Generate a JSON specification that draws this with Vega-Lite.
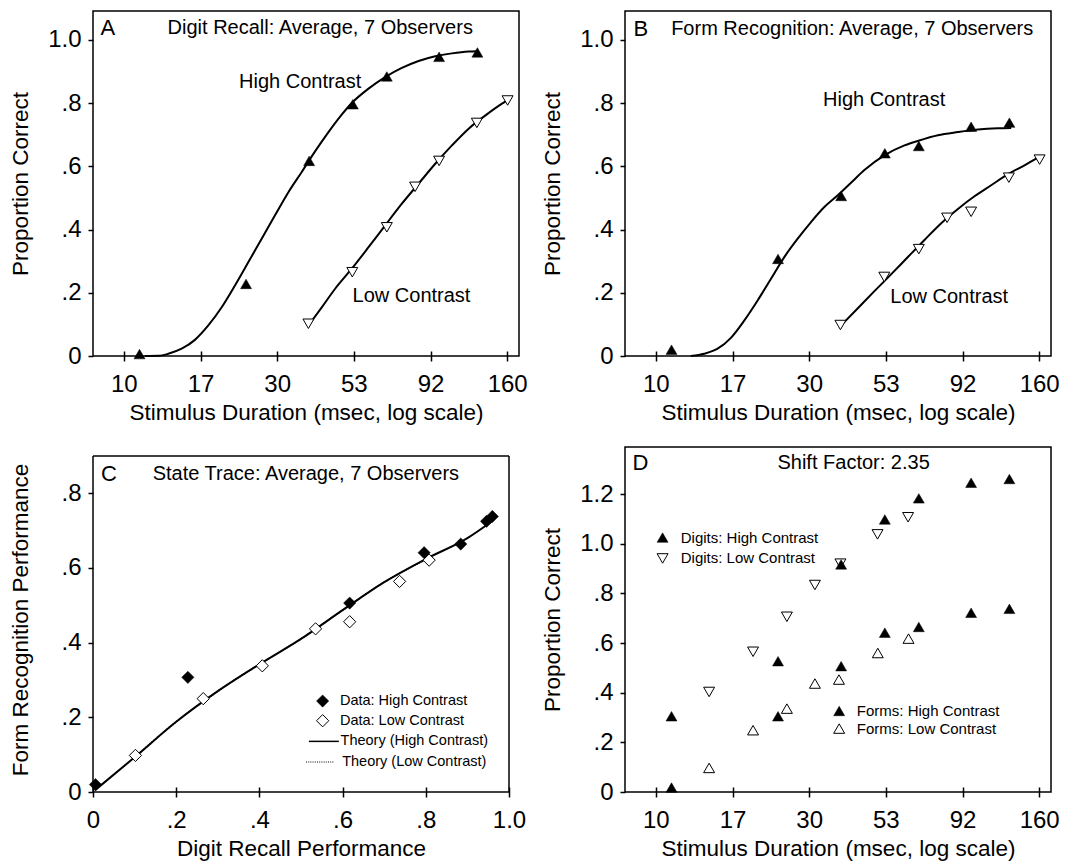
{
  "$schema": "https://vega.github.io/schema/vega-lite/v6.json",
  "padding": {"left": 8, "top": 10, "right": 5, "bottom": 0},
  "background": "white",
  "config": {
    "font": "Liberation Sans",
    "view": {"stroke": "black", "strokeWidth": 1.5},
    "axis": {"domain": false, "grid": false, "tickColor": "black", "tickWidth": 1.5, "labelColor": "black", "titleColor": "black", "labelFontSize": 24, "titleFontSize": 22.5, "titleFontWeight": "normal", "labelFont": "Liberation Sans", "titleFont": "Liberation Sans"},
    "axisX": {"offset": -5, "tickSize": 10, "labelPadding": 11, "titlePadding": 5, "labelFlush": false},
    "axisY": {"tickSize": 5, "labelPadding": 7, "titlePadding": 15, "labelFlush": false},
    "text": {"color": "black"}
  },
  "datasets": {
    "obs": [
      {"contrast": "High", "dur": 11.2, "digit": 0.006, "form": 0.020},
      {"contrast": "High", "dur": 24.2, "digit": 0.228, "form": 0.307},
      {"contrast": "High", "dur": 38.2, "digit": 0.617, "form": 0.506},
      {"contrast": "High", "dur": 52.4, "digit": 0.796, "form": 0.641},
      {"contrast": "High", "dur": 67.0, "digit": 0.884, "form": 0.664},
      {"contrast": "High", "dur": 97.8, "digit": 0.946, "form": 0.725},
      {"contrast": "High", "dur": 129.0, "digit": 0.960, "form": 0.738},
      {"contrast": "Low", "dur": 38.0, "digit": 0.102, "form": 0.098},
      {"contrast": "Low", "dur": 52.2, "digit": 0.265, "form": 0.250},
      {"contrast": "Low", "dur": 67.0, "digit": 0.407, "form": 0.338},
      {"contrast": "Low", "dur": 82.2, "digit": 0.535, "form": 0.437},
      {"contrast": "Low", "dur": 97.8, "digit": 0.617, "form": 0.456},
      {"contrast": "Low", "dur": 128.5, "digit": 0.737, "form": 0.564},
      {"contrast": "Low", "dur": 160.5, "digit": 0.808, "form": 0.621}
    ],
    "shift": [
      {"task": "Digits", "contrast": "High", "dur": 11.2, "p": 0.305},
      {"task": "Digits", "contrast": "High", "dur": 24.2, "p": 0.527},
      {"task": "Digits", "contrast": "High", "dur": 38.2, "p": 0.917},
      {"task": "Digits", "contrast": "High", "dur": 52.4, "p": 1.098},
      {"task": "Digits", "contrast": "High", "dur": 67.0, "p": 1.183},
      {"task": "Digits", "contrast": "High", "dur": 97.8, "p": 1.246},
      {"task": "Digits", "contrast": "High", "dur": 129.0, "p": 1.261},
      {"task": "Forms", "contrast": "High", "dur": 11.2, "p": 0.018},
      {"task": "Forms", "contrast": "High", "dur": 24.2, "p": 0.305},
      {"task": "Forms", "contrast": "High", "dur": 38.2, "p": 0.507},
      {"task": "Forms", "contrast": "High", "dur": 52.4, "p": 0.642},
      {"task": "Forms", "contrast": "High", "dur": 67.0, "p": 0.665},
      {"task": "Forms", "contrast": "High", "dur": 97.8, "p": 0.722},
      {"task": "Forms", "contrast": "High", "dur": 129.0, "p": 0.738},
      {"task": "Digits", "contrast": "Low", "dur": 14.7, "p": 0.403},
      {"task": "Digits", "contrast": "Low", "dur": 20.2, "p": 0.565},
      {"task": "Digits", "contrast": "Low", "dur": 25.8, "p": 0.706},
      {"task": "Digits", "contrast": "Low", "dur": 31.6, "p": 0.834},
      {"task": "Digits", "contrast": "Low", "dur": 38.0, "p": 0.920},
      {"task": "Digits", "contrast": "Low", "dur": 49.7, "p": 1.038},
      {"task": "Digits", "contrast": "Low", "dur": 62.0, "p": 1.107},
      {"task": "Forms", "contrast": "Low", "dur": 14.7, "p": 0.097},
      {"task": "Forms", "contrast": "Low", "dur": 20.2, "p": 0.249},
      {"task": "Forms", "contrast": "Low", "dur": 25.8, "p": 0.336},
      {"task": "Forms", "contrast": "Low", "dur": 31.6, "p": 0.437},
      {"task": "Forms", "contrast": "Low", "dur": 37.6, "p": 0.453},
      {"task": "Forms", "contrast": "Low", "dur": 49.8, "p": 0.560},
      {"task": "Forms", "contrast": "Low", "dur": 62.2, "p": 0.618}
    ],
    "curves": [
      {"panel": "A", "contrast": "High", "dur": 11.64, "p": 0.0},
      {"panel": "A", "contrast": "High", "dur": 12.83, "p": 0.0005},
      {"panel": "A", "contrast": "High", "dur": 13.79, "p": 0.007},
      {"panel": "A", "contrast": "High", "dur": 15.19, "p": 0.023},
      {"panel": "A", "contrast": "High", "dur": 16.72, "p": 0.051},
      {"panel": "A", "contrast": "High", "dur": 18.42, "p": 0.0965},
      {"panel": "A", "contrast": "High", "dur": 20.29, "p": 0.154},
      {"panel": "A", "contrast": "High", "dur": 22.34, "p": 0.223},
      {"panel": "A", "contrast": "High", "dur": 24.62, "p": 0.297},
      {"panel": "A", "contrast": "High", "dur": 27.1, "p": 0.371},
      {"panel": "A", "contrast": "High", "dur": 29.84, "p": 0.445},
      {"panel": "A", "contrast": "High", "dur": 32.88, "p": 0.518},
      {"panel": "A", "contrast": "High", "dur": 36.21, "p": 0.582},
      {"panel": "A", "contrast": "High", "dur": 39.87, "p": 0.647},
      {"panel": "A", "contrast": "High", "dur": 43.93, "p": 0.708},
      {"panel": "A", "contrast": "High", "dur": 47.8, "p": 0.757},
      {"panel": "A", "contrast": "High", "dur": 52.0, "p": 0.800},
      {"panel": "A", "contrast": "High", "dur": 58.7, "p": 0.8455},
      {"panel": "A", "contrast": "High", "dur": 66.2, "p": 0.882},
      {"panel": "A", "contrast": "High", "dur": 74.7, "p": 0.911},
      {"panel": "A", "contrast": "High", "dur": 84.3, "p": 0.933},
      {"panel": "A", "contrast": "High", "dur": 95.1, "p": 0.948},
      {"panel": "A", "contrast": "High", "dur": 107.3, "p": 0.957},
      {"panel": "A", "contrast": "High", "dur": 121.1, "p": 0.9627},
      {"panel": "A", "contrast": "High", "dur": 128.6, "p": 0.9636},
      {"panel": "A", "contrast": "Low", "dur": 38.0, "p": 0.0965},
      {"panel": "A", "contrast": "Low", "dur": 41.85, "p": 0.154},
      {"panel": "A", "contrast": "Low", "dur": 46.1, "p": 0.2127},
      {"panel": "A", "contrast": "Low", "dur": 52.0, "p": 0.276},
      {"panel": "A", "contrast": "Low", "dur": 58.7, "p": 0.344},
      {"panel": "A", "contrast": "Low", "dur": 66.2, "p": 0.413},
      {"panel": "A", "contrast": "Low", "dur": 74.7, "p": 0.4816},
      {"panel": "A", "contrast": "Low", "dur": 84.3, "p": 0.545},
      {"panel": "A", "contrast": "Low", "dur": 95.1, "p": 0.608},
      {"panel": "A", "contrast": "Low", "dur": 107.3, "p": 0.666},
      {"panel": "A", "contrast": "Low", "dur": 121.1, "p": 0.719},
      {"panel": "A", "contrast": "Low", "dur": 136.8, "p": 0.761},
      {"panel": "A", "contrast": "Low", "dur": 154.1, "p": 0.798},
      {"panel": "A", "contrast": "Low", "dur": 160.0, "p": 0.8085},
      {"panel": "B", "contrast": "High", "dur": 12.88, "p": 0.0},
      {"panel": "B", "contrast": "High", "dur": 14.19, "p": 0.007},
      {"panel": "B", "contrast": "High", "dur": 15.63, "p": 0.023},
      {"panel": "B", "contrast": "High", "dur": 17.21, "p": 0.0575},
      {"panel": "B", "contrast": "High", "dur": 18.95, "p": 0.112},
      {"panel": "B", "contrast": "High", "dur": 20.88, "p": 0.1756},
      {"panel": "B", "contrast": "High", "dur": 23.0, "p": 0.244},
      {"panel": "B", "contrast": "High", "dur": 25.32, "p": 0.3127},
      {"panel": "B", "contrast": "High", "dur": 27.9, "p": 0.371},
      {"panel": "B", "contrast": "High", "dur": 30.72, "p": 0.4235},
      {"panel": "B", "contrast": "High", "dur": 33.83, "p": 0.471},
      {"panel": "B", "contrast": "High", "dur": 37.27, "p": 0.508},
      {"panel": "B", "contrast": "High", "dur": 41.04, "p": 0.548},
      {"panel": "B", "contrast": "High", "dur": 45.2, "p": 0.588},
      {"panel": "B", "contrast": "High", "dur": 52.2, "p": 0.6345},
      {"panel": "B", "contrast": "High", "dur": 60.4, "p": 0.666},
      {"panel": "B", "contrast": "High", "dur": 66.5, "p": 0.680},
      {"panel": "B", "contrast": "High", "dur": 76.9, "p": 0.698},
      {"panel": "B", "contrast": "High", "dur": 88.9, "p": 0.708},
      {"panel": "B", "contrast": "High", "dur": 102.7, "p": 0.716},
      {"panel": "B", "contrast": "High", "dur": 118.7, "p": 0.720},
      {"panel": "B", "contrast": "High", "dur": 130.7, "p": 0.721},
      {"panel": "B", "contrast": "Low", "dur": 37.7, "p": 0.091},
      {"panel": "B", "contrast": "Low", "dur": 43.1, "p": 0.151},
      {"panel": "B", "contrast": "Low", "dur": 48.6, "p": 0.205},
      {"panel": "B", "contrast": "Low", "dur": 54.8, "p": 0.258},
      {"panel": "B", "contrast": "Low", "dur": 61.9, "p": 0.313},
      {"panel": "B", "contrast": "Low", "dur": 69.8, "p": 0.367},
      {"panel": "B", "contrast": "Low", "dur": 78.8, "p": 0.420},
      {"panel": "B", "contrast": "Low", "dur": 88.9, "p": 0.465},
      {"panel": "B", "contrast": "Low", "dur": 100.2, "p": 0.505},
      {"panel": "B", "contrast": "Low", "dur": 113.1, "p": 0.540},
      {"panel": "B", "contrast": "Low", "dur": 127.7, "p": 0.575},
      {"panel": "B", "contrast": "Low", "dur": 143.9, "p": 0.603},
      {"panel": "B", "contrast": "Low", "dur": 158.6, "p": 0.627}
    ],
    "theory": [
      {"contrast": "Low", "digit": 0.1, "form": 0.093},
      {"contrast": "Low", "digit": 0.2, "form": 0.188},
      {"contrast": "Low", "digit": 0.3, "form": 0.27},
      {"contrast": "Low", "digit": 0.4, "form": 0.342},
      {"contrast": "Low", "digit": 0.5, "form": 0.41},
      {"contrast": "Low", "digit": 0.6, "form": 0.487},
      {"contrast": "Low", "digit": 0.7, "form": 0.562},
      {"contrast": "Low", "digit": 0.81, "form": 0.628},
      {"contrast": "High", "digit": 0.005, "form": 0.005},
      {"contrast": "High", "digit": 0.1, "form": 0.093},
      {"contrast": "High", "digit": 0.2, "form": 0.188},
      {"contrast": "High", "digit": 0.3, "form": 0.27},
      {"contrast": "High", "digit": 0.4, "form": 0.342},
      {"contrast": "High", "digit": 0.5, "form": 0.41},
      {"contrast": "High", "digit": 0.6, "form": 0.487},
      {"contrast": "High", "digit": 0.7, "form": 0.562},
      {"contrast": "High", "digit": 0.8, "form": 0.624},
      {"contrast": "High", "digit": 0.9, "form": 0.68},
      {"contrast": "High", "digit": 0.96, "form": 0.726}
    ]
  },
  "columns": 2,
  "bounds": "flush",
  "spacing": {"row": 91, "column": 106},
  "concat": [
    {
      "width": 426, "height": 345,
      "layer": [
        {"data": {"name": "curves"}, "transform": [{"filter": "datum.panel === 'A'"}],
         "mark": {"type": "line", "color": "black", "strokeWidth": 2, "interpolate": "monotone"},
         "encoding": {
           "x": {"field": "dur", "type": "quantitative", "scale": {"type": "log", "domain": [8, 174.3], "nice": false}, "axis": {"values": [10, 17.411, 30.314, 52.78, 91.896, 160], "format": ".0f"}, "title": "Stimulus Duration (msec, log scale)"},
           "y": {"field": "p", "type": "quantitative", "scale": {"domain": [0, 1.091], "nice": false, "zero": false}, "axis": {"values": [0, 0.2, 0.4, 0.6, 0.8, 1], "labelExpr": "datum.value == 0 ? '0' : datum.value < 1 ? slice(format(datum.value, '.1f'), 1) : format(datum.value, '.1f')"}, "title": "Proportion Correct"},
           "detail": {"field": "contrast"}}},
        {"data": {"name": "obs"}, "transform": [{"filter": "datum.contrast === 'Low'"}],
         "mark": {"type": "point", "shape": "triangle-down", "size": 120, "fill": "white", "stroke": "black", "strokeWidth": 1, "opacity": 1},
         "encoding": {"x": {"field": "dur", "type": "quantitative", "title": "Stimulus Duration (msec, log scale)"}, "y": {"field": "digit", "type": "quantitative", "title": "Proportion Correct"}}},
        {"data": {"name": "obs"}, "transform": [{"filter": "datum.contrast === 'High'"}],
         "mark": {"type": "point", "shape": "triangle-up", "size": 120, "fill": "black", "stroke": "black", "strokeWidth": 0.5, "opacity": 1},
         "encoding": {"x": {"field": "dur", "type": "quantitative", "title": "Stimulus Duration (msec, log scale)"}, "y": {"field": "digit", "type": "quantitative", "title": "Proportion Correct"}}},
        {"data": {"values": [{}]}, "mark": {"type": "text", "align": "left", "baseline": "middle", "fontSize": 22, "text": "A"}, "encoding": {"x": {"datum": 8.45}, "y": {"datum": 1.036}}},
        {"data": {"values": [{}]}, "mark": {"type": "text", "align": "left", "baseline": "middle", "fontSize": 20, "text": "Digit Recall: Average, 7 Observers"}, "encoding": {"x": {"datum": 13.72}, "y": {"datum": 1.036}}},
        {"data": {"values": [{}]}, "mark": {"type": "text", "align": "left", "baseline": "middle", "fontSize": 20, "text": "High Contrast"}, "encoding": {"x": {"datum": 23.0}, "y": {"datum": 0.866}}},
        {"data": {"values": [{}]}, "mark": {"type": "text", "align": "left", "baseline": "middle", "fontSize": 20, "text": "Low Contrast"}, "encoding": {"x": {"datum": 52.3}, "y": {"datum": 0.191}}}
      ]
    },
    {
      "width": 426, "height": 345,
      "layer": [
        {"data": {"name": "curves"}, "transform": [{"filter": "datum.panel === 'B'"}],
         "mark": {"type": "line", "color": "black", "strokeWidth": 2, "interpolate": "monotone"},
         "encoding": {
           "x": {"field": "dur", "type": "quantitative", "scale": {"type": "log", "domain": [8, 174.3], "nice": false}, "axis": {"values": [10, 17.411, 30.314, 52.78, 91.896, 160], "format": ".0f"}, "title": "Stimulus Duration (msec, log scale)"},
           "y": {"field": "p", "type": "quantitative", "scale": {"domain": [0, 1.091], "nice": false, "zero": false}, "axis": {"values": [0, 0.2, 0.4, 0.6, 0.8, 1], "labelExpr": "datum.value == 0 ? '0' : datum.value < 1 ? slice(format(datum.value, '.1f'), 1) : format(datum.value, '.1f')"}, "title": "Proportion Correct"},
           "detail": {"field": "contrast"}}},
        {"data": {"name": "obs"}, "transform": [{"filter": "datum.contrast === 'Low'"}],
         "mark": {"type": "point", "shape": "triangle-down", "size": 120, "fill": "white", "stroke": "black", "strokeWidth": 1, "opacity": 1},
         "encoding": {"x": {"field": "dur", "type": "quantitative", "title": "Stimulus Duration (msec, log scale)"}, "y": {"field": "form", "type": "quantitative", "title": "Proportion Correct"}}},
        {"data": {"name": "obs"}, "transform": [{"filter": "datum.contrast === 'High'"}],
         "mark": {"type": "point", "shape": "triangle-up", "size": 120, "fill": "black", "stroke": "black", "strokeWidth": 0.5, "opacity": 1},
         "encoding": {"x": {"field": "dur", "type": "quantitative", "title": "Stimulus Duration (msec, log scale)"}, "y": {"field": "form", "type": "quantitative", "title": "Proportion Correct"}}},
        {"data": {"values": [{}]}, "mark": {"type": "text", "align": "left", "baseline": "middle", "fontSize": 22, "text": "B"}, "encoding": {"x": {"datum": 8.5}, "y": {"datum": 1.035}}},
        {"data": {"values": [{}]}, "mark": {"type": "text", "align": "left", "baseline": "middle", "fontSize": 20, "text": "Form Recognition: Average, 7 Observers"}, "encoding": {"x": {"datum": 11.17}, "y": {"datum": 1.035}}},
        {"data": {"values": [{}]}, "mark": {"type": "text", "align": "left", "baseline": "middle", "fontSize": 20, "text": "High Contrast"}, "encoding": {"x": {"datum": 33.5}, "y": {"datum": 0.811}}},
        {"data": {"values": [{}]}, "mark": {"type": "text", "align": "left", "baseline": "middle", "fontSize": 20, "text": "Low Contrast"}, "encoding": {"x": {"datum": 54.5}, "y": {"datum": 0.188}}}
      ]
    },
    {
      "width": 416, "height": 345,
      "view": {"stroke": null},
      "layer": [
        {"data": {"name": "theory"}, "transform": [{"filter": "datum.contrast === 'Low'"}],
         "mark": {"type": "line", "color": "black", "strokeWidth": 1.5, "strokeDash": [1, 1.5], "interpolate": "monotone"},
         "encoding": {
           "x": {"field": "digit", "type": "quantitative", "scale": {"domain": [0, 1], "nice": false, "zero": false}, "axis": {"values": [0, 0.2, 0.4, 0.6, 0.8, 1], "labelExpr": "datum.value == 0 ? '0' : datum.value < 1 ? slice(format(datum.value, '.1f'), 1) : format(datum.value, '.1f')"}, "title": "Digit Recall Performance"},
           "y": {"field": "form", "type": "quantitative", "scale": {"domain": [0, 0.924], "nice": false, "zero": false}, "axis": {"values": [0, 0.2, 0.4, 0.6, 0.8], "titlePadding": 28, "labelExpr": "datum.value == 0 ? '0' : datum.value < 1 ? slice(format(datum.value, '.1f'), 1) : format(datum.value, '.1f')"}, "title": "Form Recognition Performance"}}},
        {"data": {"name": "theory"}, "transform": [{"filter": "datum.contrast === 'High'"}],
         "mark": {"type": "line", "color": "black", "strokeWidth": 2, "interpolate": "monotone"},
         "encoding": {"x": {"field": "digit", "type": "quantitative", "title": "Digit Recall Performance"}, "y": {"field": "form", "type": "quantitative", "title": "Form Recognition Performance"}}},
        {"data": {"values": [{}]}, "mark": {"type": "rule", "color": "black", "strokeWidth": 1.5}, "encoding": {"x": {"datum": 0}, "x2": {"datum": 1}, "y": {"datum": 0.9}}},
        {"data": {"values": [{}]}, "mark": {"type": "rule", "color": "black", "strokeWidth": 1.5}, "encoding": {"x": {"datum": 0}, "x2": {"datum": 1}, "y": {"datum": 0}}},
        {"data": {"values": [{}]}, "mark": {"type": "rule", "color": "black", "strokeWidth": 1.5}, "encoding": {"x": {"datum": 0}, "y": {"datum": 0}, "y2": {"datum": 0.9}}},
        {"data": {"values": [{}]}, "mark": {"type": "rule", "color": "black", "strokeWidth": 1.5}, "encoding": {"x": {"datum": 1}, "y": {"datum": 0}, "y2": {"datum": 0.9}}},
        {"data": {"name": "obs"}, "transform": [{"filter": "datum.contrast === 'Low'"}],
         "mark": {"type": "point", "shape": "diamond", "size": 150, "fill": "white", "stroke": "black", "strokeWidth": 1, "opacity": 1},
         "encoding": {"x": {"field": "digit", "type": "quantitative", "title": "Digit Recall Performance"}, "y": {"field": "form", "type": "quantitative", "title": "Form Recognition Performance"}}},
        {"data": {"name": "obs"}, "transform": [{"filter": "datum.contrast === 'High'"}],
         "mark": {"type": "point", "shape": "diamond", "size": 150, "fill": "black", "stroke": "black", "strokeWidth": 0.5, "opacity": 1},
         "encoding": {"x": {"field": "digit", "type": "quantitative", "title": "Digit Recall Performance"}, "y": {"field": "form", "type": "quantitative", "title": "Form Recognition Performance"}}},
        {"data": {"values": [{}]}, "mark": {"type": "text", "align": "left", "baseline": "middle", "fontSize": 22, "text": "C"}, "encoding": {"x": {"datum": 0.019}, "y": {"datum": 0.853}}},
        {"data": {"values": [{}]}, "mark": {"type": "text", "align": "left", "baseline": "middle", "fontSize": 20, "text": "State Trace: Average, 7 Observers"}, "encoding": {"x": {"datum": 0.1434}, "y": {"datum": 0.853}}},
        {"data": {"values": [{}]}, "mark": {"type": "point", "shape": "diamond", "size": 150, "fill": "black", "stroke": "black", "strokeWidth": 0.5, "opacity": 1}, "encoding": {"x": {"datum": 0.552}, "y": {"datum": 0.2437}}},
        {"data": {"values": [{}]}, "mark": {"type": "point", "shape": "diamond", "size": 150, "fill": "white", "stroke": "black", "strokeWidth": 1, "opacity": 1}, "encoding": {"x": {"datum": 0.552}, "y": {"datum": 0.1909}}},
        {"data": {"values": [{}]}, "mark": {"type": "rule", "color": "black", "strokeWidth": 1.5}, "encoding": {"x": {"datum": 0.519}, "x2": {"datum": 0.591}, "y": {"datum": 0.1356}}},
        {"data": {"values": [{}]}, "mark": {"type": "rule", "color": "black", "strokeWidth": 1, "strokeDash": [1, 1.2]}, "encoding": {"x": {"datum": 0.512}, "x2": {"datum": 0.58}, "y": {"datum": 0.0803}}},
        {"data": {"values": [{}]}, "mark": {"type": "text", "align": "left", "baseline": "middle", "fontSize": 14.5, "text": "Data: High Contrast"}, "encoding": {"x": {"datum": 0.5936}, "y": {"datum": 0.2437}}},
        {"data": {"values": [{}]}, "mark": {"type": "text", "align": "left", "baseline": "middle", "fontSize": 14.5, "text": "Data: Low Contrast"}, "encoding": {"x": {"datum": 0.5936}, "y": {"datum": 0.1909}}},
        {"data": {"values": [{}]}, "mark": {"type": "text", "align": "left", "baseline": "middle", "fontSize": 14.5, "text": "Theory (High Contrast)"}, "encoding": {"x": {"datum": 0.595}, "y": {"datum": 0.1356}}},
        {"data": {"values": [{}]}, "mark": {"type": "text", "align": "left", "baseline": "middle", "fontSize": 14.5, "text": "Theory (Low Contrast)"}, "encoding": {"x": {"datum": 0.599}, "y": {"datum": 0.0803}}}
      ]
    },
    {
      "width": 426, "height": 345,
      "layer": [
        {"data": {"name": "shift"}, "transform": [{"filter": "datum.contrast === 'Low' && datum.task === 'Digits'"}],
         "mark": {"type": "point", "shape": "triangle-down", "size": 120, "fill": "white", "stroke": "black", "strokeWidth": 1, "opacity": 1},
         "encoding": {
           "x": {"field": "dur", "type": "quantitative", "scale": {"type": "log", "domain": [8, 174.3], "nice": false}, "axis": {"values": [10, 17.411, 30.314, 52.78, 91.896, 160], "format": ".0f"}, "title": "Stimulus Duration (msec, log scale)"},
           "y": {"field": "p", "type": "quantitative", "scale": {"domain": [0, 1.39], "nice": false, "zero": false}, "axis": {"values": [0, 0.2, 0.4, 0.6, 0.8, 1, 1.2], "labelExpr": "datum.value == 0 ? '0' : datum.value < 1 ? slice(format(datum.value, '.1f'), 1) : format(datum.value, '.1f')"}, "title": "Proportion Correct"}}},
        {"data": {"name": "shift"}, "transform": [{"filter": "datum.contrast === 'Low' && datum.task === 'Forms'"}],
         "mark": {"type": "point", "shape": "triangle-up", "size": 120, "fill": "white", "stroke": "black", "strokeWidth": 1, "opacity": 1},
         "encoding": {"x": {"field": "dur", "type": "quantitative", "title": "Stimulus Duration (msec, log scale)"}, "y": {"field": "p", "type": "quantitative", "title": "Proportion Correct"}}},
        {"data": {"name": "shift"}, "transform": [{"filter": "datum.contrast === 'High'"}],
         "mark": {"type": "point", "shape": "triangle-up", "size": 120, "fill": "black", "stroke": "black", "strokeWidth": 0.5, "opacity": 1},
         "encoding": {"x": {"field": "dur", "type": "quantitative", "title": "Stimulus Duration (msec, log scale)"}, "y": {"field": "p", "type": "quantitative", "title": "Proportion Correct"}}},
        {"data": {"values": [{}]}, "mark": {"type": "text", "align": "left", "baseline": "middle", "fontSize": 22, "text": "D"}, "encoding": {"x": {"datum": 8.45}, "y": {"datum": 1.327}}},
        {"data": {"values": [{}]}, "mark": {"type": "text", "align": "left", "baseline": "middle", "fontSize": 20, "text": "Shift Factor: 2.35"}, "encoding": {"x": {"datum": 24.1}, "y": {"datum": 1.324}}},
        {"data": {"values": [{}]}, "mark": {"type": "point", "shape": "triangle-up", "size": 120, "fill": "black", "stroke": "black", "strokeWidth": 0.5, "opacity": 1}, "encoding": {"x": {"datum": 10.5}, "y": {"datum": 1.025}}},
        {"data": {"values": [{}]}, "mark": {"type": "point", "shape": "triangle-down", "size": 120, "fill": "white", "stroke": "black", "strokeWidth": 1, "opacity": 1}, "encoding": {"x": {"datum": 10.5}, "y": {"datum": 0.941}}},
        {"data": {"values": [{}]}, "mark": {"type": "point", "shape": "triangle-up", "size": 120, "fill": "black", "stroke": "black", "strokeWidth": 0.5, "opacity": 1}, "encoding": {"x": {"datum": 37.66}, "y": {"datum": 0.3265}}},
        {"data": {"values": [{}]}, "mark": {"type": "point", "shape": "triangle-up", "size": 120, "fill": "white", "stroke": "black", "strokeWidth": 1, "opacity": 1}, "encoding": {"x": {"datum": 37.66}, "y": {"datum": 0.2555}}},
        {"data": {"values": [{}]}, "mark": {"type": "text", "align": "left", "baseline": "middle", "fontSize": 15, "text": "Digits: High Contrast"}, "encoding": {"x": {"datum": 11.97}, "y": {"datum": 1.025}}},
        {"data": {"values": [{}]}, "mark": {"type": "text", "align": "left", "baseline": "middle", "fontSize": 15, "text": "Digits: Low Contrast"}, "encoding": {"x": {"datum": 11.97}, "y": {"datum": 0.941}}},
        {"data": {"values": [{}]}, "mark": {"type": "text", "align": "left", "baseline": "middle", "fontSize": 15, "text": "Forms: High Contrast"}, "encoding": {"x": {"datum": 42.8}, "y": {"datum": 0.3265}}},
        {"data": {"values": [{}]}, "mark": {"type": "text", "align": "left", "baseline": "middle", "fontSize": 15, "text": "Forms: Low Contrast"}, "encoding": {"x": {"datum": 42.8}, "y": {"datum": 0.2555}}}
      ]
    }
  ]
}
